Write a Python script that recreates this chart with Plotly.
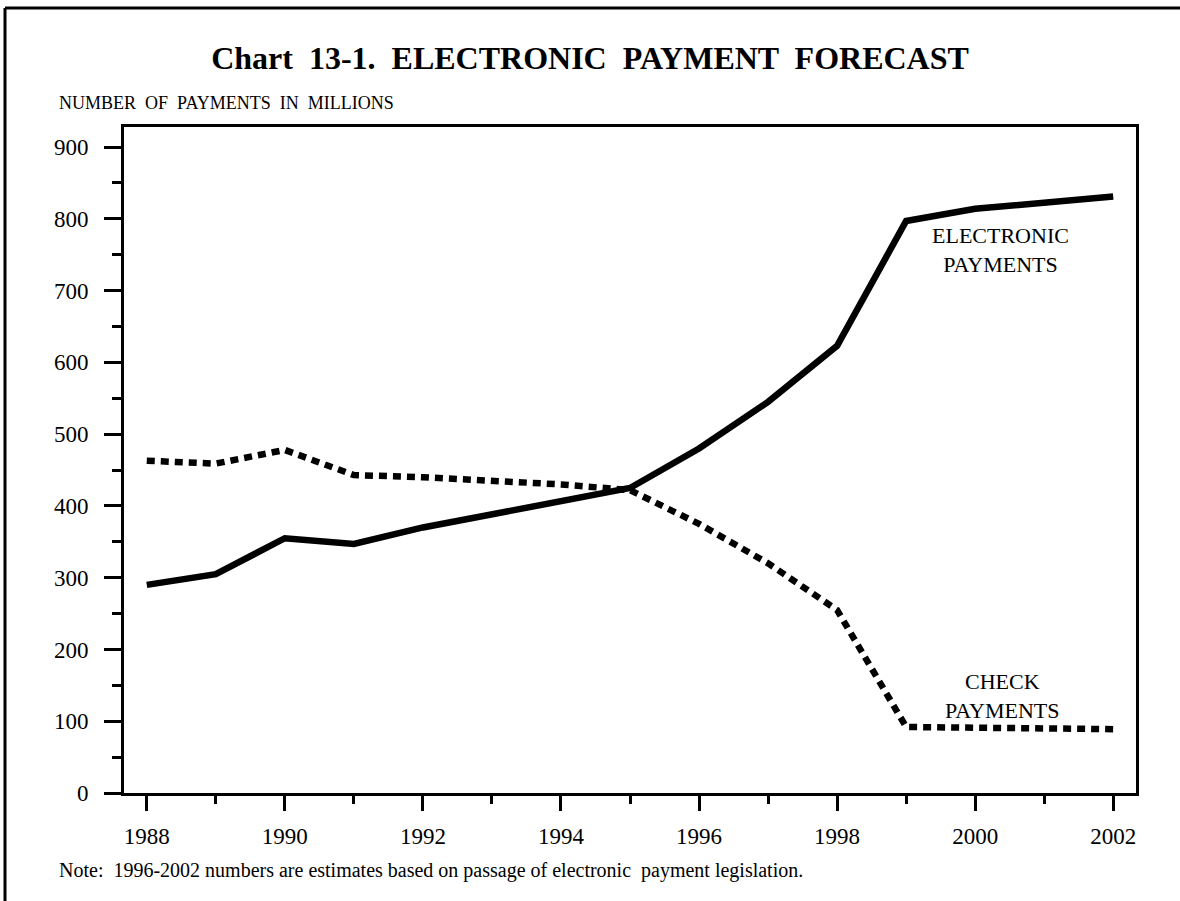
import plotly.graph_objects as go

years = list(range(1988, 2003))
electronic = [290, 305, 355, 347, 370, 388, 407, 425, 480, 545, 623, 797, 814, 822, 831]
check = [463, 459, 478, 443, 440, 435, 430, 422, 375, 320, 255, 92, 91, 88, 89]

serif = "Liberation Serif, Times New Roman, serif"

fig = go.Figure()
fig.add_trace(go.Scatter(x=years, y=check, mode="lines", name="Check payments",
                         line=dict(color="black", width=6.5, dash="8px,6px")))
fig.add_trace(go.Scatter(x=years, y=electronic, mode="lines", name="Electronic payments",
                         line=dict(color="black", width=6.5)))

fig.update_layout(
    width=1180, height=901,
    margin=dict(l=124, r=44, t=127, b=108),
    paper_bgcolor="white", plot_bgcolor="white",
    showlegend=False,
    font=dict(family=serif, color="black", size=23),
    title=dict(text="<b>Chart  13-1.  ELECTRONIC  PAYMENT  FORECAST</b>",
               x=0.5, xanchor="center", y=1 - 58 / 901, yanchor="middle",
               font=dict(family=serif, size=32, color="black")),
)

fig.update_xaxes(range=[1987.67, 2002.33], tickmode="array",
                 tickvals=list(range(1988, 2003, 2)),
                 ticks="outside", ticklen=15, tickwidth=3, tickcolor="black",
                 minor=dict(tickvals=list(range(1989, 2002, 2)), ticks="outside",
                            ticklen=8, tickwidth=3, tickcolor="black"),
                 showline=True, linecolor="black", linewidth=3, mirror=True,
                 showgrid=False, zeroline=False, tickfont=dict(size=23),
                 ticklabelstandoff=5)
fig.update_yaxes(range=[0, 928], tickmode="array",
                 tickvals=list(range(0, 901, 100)),
                 ticks="outside", ticklen=17, tickwidth=3, tickcolor="black",
                 minor=dict(tickvals=list(range(50, 900, 100)), ticks="outside",
                            ticklen=9, tickwidth=3, tickcolor="black"),
                 showline=True, linecolor="black", linewidth=3, mirror=True,
                 showgrid=False, zeroline=False, tickfont=dict(size=23),
                 ticklabelstandoff=11)

pw, ph = 1012, 666
fig.add_annotation(text="NUMBER  OF  PAYMENTS  IN  MILLIONS", xref="paper", yref="paper",
                   x=(57 - 124) / pw, y=(793 - 103) / ph, xanchor="left", yanchor="middle",
                   showarrow=False, font=dict(size=18))
fig.add_annotation(text="Note:  1996-2002 numbers are estimates based on passage of electronic  payment legislation.",
                   xref="paper", yref="paper", x=(57 - 124) / pw, y=(793 - 871) / ph,
                   xanchor="left", yanchor="middle", showarrow=False, font=dict(size=20))
fig.add_annotation(text="ELECTRONIC<br>PAYMENTS", x=2000.36, y=756, showarrow=False,
                   font=dict(size=22))
fig.add_annotation(text="CHECK<br>PAYMENTS", x=2000.4, y=135, showarrow=False,
                   font=dict(size=22))

# frame around the page (top and left edges)
fig.add_shape(type="line", xref="paper", yref="paper",
              x0=(5 - 124) / pw, x1=(1180 - 124) / pw, y0=(793 - 8) / ph, y1=(793 - 8) / ph,
              line=dict(color="black", width=3))
fig.add_shape(type="line", xref="paper", yref="paper",
              x0=(5 - 124) / pw, x1=(5 - 124) / pw, y0=(793 - 8) / ph, y1=(793 - 901) / ph,
              line=dict(color="black", width=3))

# drop the default 8px page margin so the figure sits at the window origin
fig.write_html("out.html", config={"displayModeBar": False},
               post_script="document.body.style.margin='0';")
